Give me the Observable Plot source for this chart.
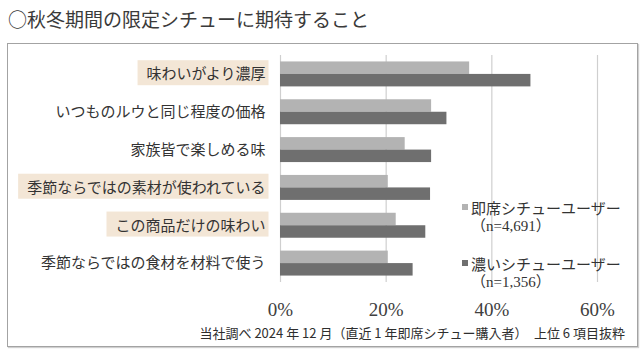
<!DOCTYPE html>
<html>
<head>
<meta charset="utf-8">
<script src="https://cdn.jsdelivr.net/npm/d3@7"></script>
<script src="https://cdn.jsdelivr.net/npm/@observablehq/plot@0.6"></script>
<style>
  html, body { margin: 0; padding: 0; background: #fff; }
  #wrap { position: relative; width: 640px; height: 355px; overflow: hidden; font-family: "Noto Sans CJK JP", sans-serif; color: #333; }
  #frame { position: absolute; left: 7px; top: 43px; width: 629px; height: 302px; border: 1px solid #a3a3a3; box-shadow: 1px 1px 1px #d0d0d0; }
  #title { position: absolute; left: 8px; top: 7px; font-size: 19px; line-height: 24px; color: #3a3a3a; white-space: nowrap; }
  #chart { position: absolute; left: 0; top: 0; }
  .leg { position: absolute; font-size: 15px; line-height: 18px; white-space: nowrap; color: #333; }
  .sw { position: absolute; width: 6px; height: 6px; }
  #caption { position: absolute; right: 15px; top: 325px; font-size: 13px; line-height: 16px; white-space: pre; color: #2e2e2e; }
</style>
</head>
<body>
<div id="wrap">
  <div id="frame"></div>
  <div id="chart"></div>
  <div id="title"></div>
  <div id="legend"></div>
  <div id="caption"></div>
</div>
<script>
// ---- data ----
const titleText = "○秋冬期間の限定シチューに期待すること";
const captionText = "当社調べ 2024 年 12 月（直近 1 年即席シチュー購入者）　上位 6 項目抜粋";
const categories = [
  "味わいがより濃厚",
  "いつものルウと同じ程度の価格",
  "家族皆で楽しめる味",
  "季節ならではの素材が使われている",
  "この商品だけの味わい",
  "季節ならではの食材を材料で使う"
];
const highlighted = ["味わいがより濃厚", "季節ならではの素材が使われている", "この商品だけの味わい"];
const seriesNames = ["即席シチューユーザー", "濃いシチューユーザー"];
const seriesN = ["（n=4,691）", "（n=1,356）"];
const instantUsers = [35.8, 28.6, 23.6, 20.4, 21.9, 20.4];
const richUsers = [47.4, 31.5, 28.6, 28.4, 27.5, 25.1];
const xTicks = [0, 20, 40, 60];
const colors = ["#b3b3b3", "#6f6f6f"];

const rows = categories.map((c, i) => ({cat: c, instant: instantUsers[i], rich: richUsers[i]}));

// ---- layout ----
const W = 640, H = 355;
const mTop = 55, mBottom = 73, mLeft = 280, mRight = 43;
const pIn = 0.34, pOut = 0.17;
const innerH = H - mTop - mBottom;
const step = innerH / (categories.length - pIn + 2 * pOut);
const bw = step * (1 - pIn);

const plot = Plot.plot({
  width: W,
  height: H,
  marginTop: mTop, marginBottom: mBottom, marginLeft: mLeft, marginRight: mRight,
  style: {background: "transparent", overflow: "visible"},
  x: {domain: [0, 60], axis: null},
  y: {domain: categories, paddingInner: pIn, paddingOuter: pOut, round: false, axis: null},
  marks: [
    Plot.ruleX(xTicks, {stroke: "#cfcfcf", strokeWidth: 1.2}),
    Plot.barX(rows, {x: "instant", y: "cat", fill: colors[0], insetBottom: bw / 2}),
    Plot.barX(rows, {x: "rich", y: "cat", fill: colors[1], insetTop: bw / 2}),
    Plot.axisX(xTicks, {tickSize: 0, tickPadding: 20, tickFormat: d => d + "%", fontSize: 19, fontFamily: "Liberation Serif, serif", fill: "#404040", anchor: "bottom"}),
    Plot.text(rows, {x: 0, y: "cat", text: "cat", textAnchor: "end", dx: -15, fontSize: 15, fontFamily: "Noto Sans CJK JP", fill: "#333"})
  ]
});
document.getElementById("chart").appendChild(plot);

// highlight boxes behind selected labels
const svg = plot.tagName.toLowerCase() === "svg" ? plot : plot.querySelector("svg");
const texts = Array.from(svg.querySelectorAll("text")).filter(t => highlighted.includes(t.textContent));
texts.forEach(t => {
  const b = t.getBBox();
  const ctm = t.getCTM();
  const r = document.createElementNS("http://www.w3.org/2000/svg", "rect");
  const cy = b.y + b.height / 2 + (ctm ? ctm.f : 0);
  const x0 = b.x + (ctm ? ctm.e : 0);
  r.setAttribute("x", x0 - 9);
  r.setAttribute("y", cy - 12.5);
  r.setAttribute("width", b.width + 12);
  r.setAttribute("height", 25);
  r.setAttribute("fill", "#f3e6d6");
  svg.insertBefore(r, svg.firstChild.nextSibling);
});

// title / caption
document.getElementById("title").textContent = titleText;
document.getElementById("caption").textContent = captionText;

// legend
const legend = document.getElementById("legend");
const legTop = [199, 255];
seriesNames.forEach((name, i) => {
  const sw = document.createElement("div");
  sw.className = "sw";
  sw.style.left = "462px";
  sw.style.top = (legTop[i] + 5) + "px";
  sw.style.background = colors[i];
  legend.appendChild(sw);
  const t1 = document.createElement("div");
  t1.className = "leg";
  t1.style.left = "471px";
  t1.style.top = legTop[i] + "px";
  t1.textContent = name;
  legend.appendChild(t1);
  const t2 = document.createElement("div");
  t2.className = "leg";
  t2.style.left = "471px";
  t2.style.top = (legTop[i] + 18) + "px";
  t2.style.fontFamily = "Liberation Serif, 'Noto Sans CJK JP', serif";
  t2.textContent = seriesN[i];
  legend.appendChild(t2);
});
</script>
</body>
</html>
